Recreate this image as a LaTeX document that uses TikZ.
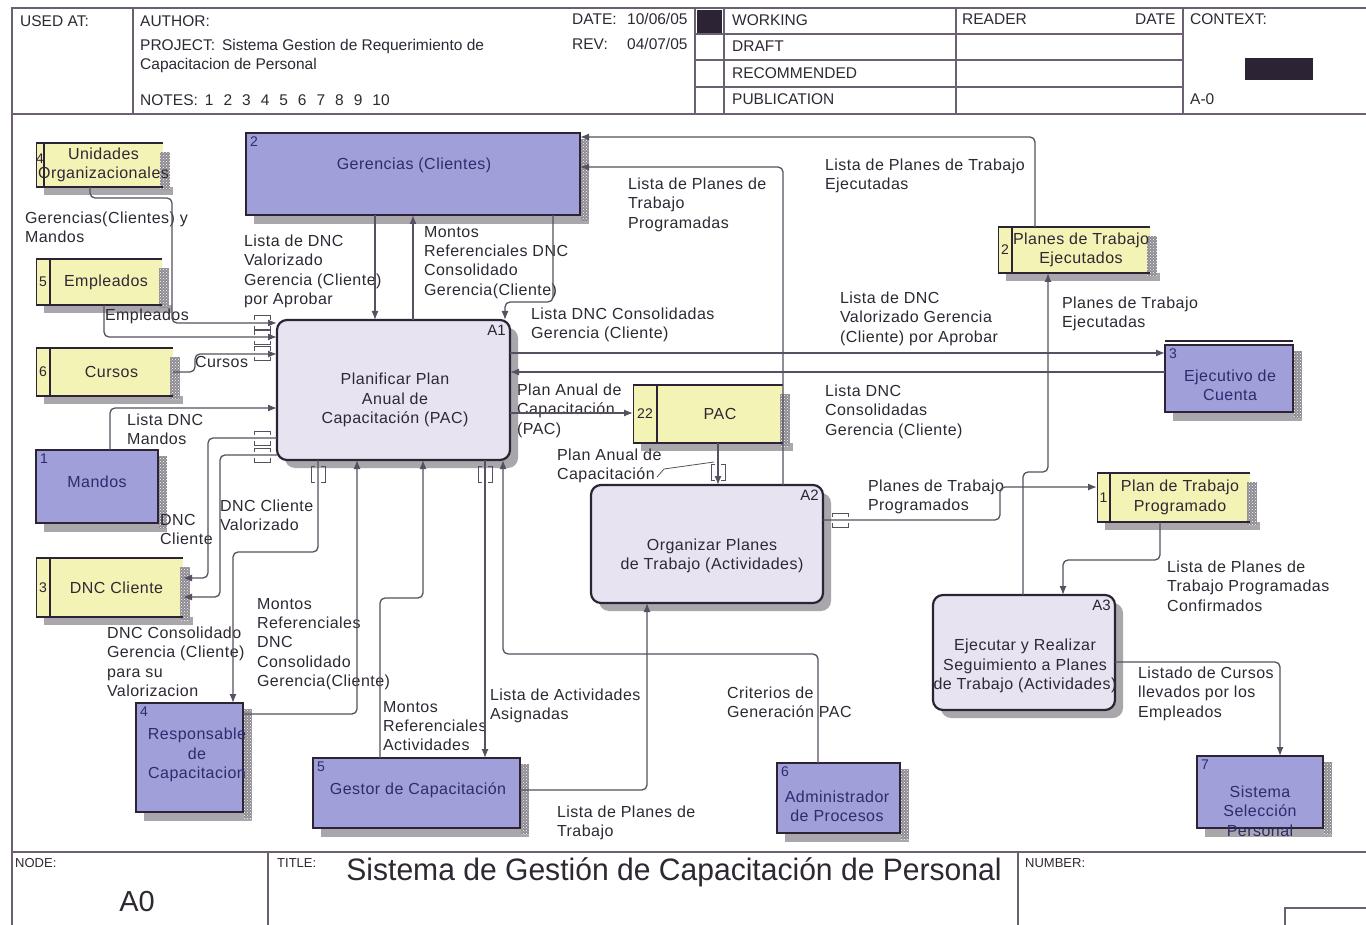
\documentclass[tikz,border=0pt]{standalone}
\usepackage{fontspec}
\setmainfont{Liberation Sans}
\newfontfamily\lblf[LetterSpace=3]{Liberation Sans}
\usetikzlibrary{arrows.meta,patterns}
\definecolor{ln}{HTML}{575060}
\definecolor{bd}{HTML}{2C2434}
\definecolor{yel}{HTML}{F4F3B6}
\definecolor{blu}{HTML}{A09FD9}
\definecolor{act}{HTML}{E7E3F0}
\definecolor{shd}{HTML}{A9A7AC}
\definecolor{chk}{HTML}{8E8C92}
\definecolor{txt}{HTML}{2E2833}
\definecolor{btxt}{HTML}{2C2C6E}
\definecolor{frm}{HTML}{6A6070}
\tikzset{
  conn/.style={draw=ln, line width=1.3pt, rounded corners=5pt},
  arr/.style={-{Latex[length=9pt,width=7pt]}},
  lbl/.style={font=\lblf\fontsize{16}{19.4}\selectfont, text=txt, align=left, anchor=north west, inner sep=0pt, outer sep=0pt},
  boxtxt/.style={font=\lblf\fontsize{16}{19.4}\selectfont, text=txt, align=center, inner sep=0pt},
  bltxt/.style={boxtxt, text=btxt},
  numtxt/.style={font=\fontsize{14}{16}\selectfont, text=bd, inner sep=0pt},
  hdr/.style={font=\fontsize{15.5}{18}\selectfont, text=txt, anchor=base west, inner sep=0pt},
  shdr/.style={font=\fontsize{13}{15}\selectfont, text=txt, anchor=base west, inner sep=0pt},
  anchorbox/.style={inner sep=0pt, outer sep=0pt, draw=none},
  bluebox/.style={draw=bd, line width=2.4pt, fill=blu, inner sep=0pt, outer sep=0pt},
  actbox/.style={draw=bd, line width=2.2pt, fill=act, rounded corners=10pt, inner sep=0pt, outer sep=0pt},
  frame/.style={draw=frm, line width=1.4pt},
  tun/.style={draw=ln, line width=1pt},
}
\newcommand\chkstrip[4]{\fill[chk] (#1,#2) rectangle (#3,#4);
  \fill[pattern=crosshatch dots, pattern color=white] (#1,#2) rectangle (#3,#4);}
\newcommand\ystore[8]{%
  \fill[shd] ({#2+8},{#5}) rectangle ({#4+10},{#5+8});
  \fill[yel] (#2,#3) rectangle (#4,#5);
  \chkstrip{#4-3}{#3+9}{#4+7}{#5+3}
  \draw[bd,line width=1pt] (#2,#3) -- (#2,#5);
  \draw[bd,line width=2.6pt] (#6,#3) -- (#6,#5);
  \draw[bd,line width=2.6pt] (#2,#3) -- (#4,#3);
  \draw[bd,line width=1.6pt] (#2,#5) -- (#4,#5);
  \node[anchorbox, minimum width={#4-#2}, minimum height={#5-#3}] (#1) at ({(#2+#4)/2},{(#3+#5)/2}) {};
  \node[boxtxt] (#1-t) at ({(#6+#4)/2},{(#3+#5)/2}) {#8};
  \node[numtxt] (#1-n) at ({(#2+#6)/2},{(#3+#5)/2}) {#7};
}
\newcommand\bent[6]{%
  \fill[shd] ({#2+8},{#3+8}) rectangle ({#4+9},{#5+9});
  \node[bluebox, minimum width={#4-#2}, minimum height={#5-#3}] (#1) at ({(#2+#4)/2},{(#3+#5)/2}) {};
  \chkstrip{#4+1}{#3+6}{#4+9}{#5+6}
  \node[numtxt, anchor=north west, text=btxt] (#1-n) at ({#2+4},{#3+4}) {#6};
}
\newcommand\actb[6]{%
  \fill[shd, rounded corners=10pt] ({#2+8},{#3+8}) rectangle ({#4+8},{#5+8});
  \node[actbox, minimum width={#4-#2}, minimum height={#5-#3}] (#1) at ({(#2+#4)/2},{(#3+#5)/2}) {};
  \node[numtxt, anchor=north east, font=\fontsize{15}{17}\selectfont] (#1-a) at ({#4-4},{#3+5}) {#6};
}
\newcommand\tunh[2]{\draw[tun] ({#1-8},{#2-3}) -- ({#1-8},{#2-7}) -- ({#1+8},{#2-7}) -- ({#1+8},{#2-3})
  ({#1-8},{#2+3}) -- ({#1-8},{#2+7}) -- ({#1+8},{#2+7}) -- ({#1+8},{#2+3});}
\newcommand\tunv[2]{\draw[tun] ({#1-3},{#2-8}) -- ({#1-7},{#2-8}) -- ({#1-7},{#2+8}) -- ({#1-3},{#2+8})
  ({#1+3},{#2-8}) -- ({#1+7},{#2-8}) -- ({#1+7},{#2+8}) -- ({#1+3},{#2+8});}

\begin{document}
\begin{tikzpicture}[x=1pt,y=-1pt]
\useasboundingbox (0,0) rectangle (1366,925);
\fill[white] (0,0) rectangle (1366,925);

% ---------- header frame ----------
\draw[frame] (12,925) -- (12,8) -- (1366,8);
\draw[frame] (12,114) -- (1366,114);
\draw[frame] (133,8) -- (133,114);
\draw[frame] (695,8) -- (695,114);
\draw[frame] (724,8) -- (724,114);
\draw[frame] (956,8) -- (956,114);
\draw[frame] (1183,8) -- (1183,114);
\draw[frame] (695,34) -- (1183,34);
\draw[frame] (695,60) -- (1183,60);
\draw[frame] (695,87) -- (1183,87);
\fill[bd] (697,10) rectangle (722,33);
\fill[bd] (1245,58) rectangle (1313,80);

\node[hdr] (h1) at (20,27) {USED AT:};
\node[hdr] (h2) at (140,27) {AUTHOR:};
\node[hdr] (h3) at (140,51) {PROJECT:\hspace{7pt}Sistema Gestion de Requerimiento de};
\node[hdr] (h4) at (140,70) {Capacitacion de Personal};
\node[hdr] (h5) at (140,106) {NOTES:\hspace{7pt}1\hspace{10pt}2\hspace{10pt}3\hspace{10pt}4\hspace{10pt}5\hspace{10pt}6\hspace{10pt}7\hspace{10pt}8\hspace{10pt}9\hspace{10pt}10};
\node[hdr] (h6) at (572,25) {DATE:};
\node[hdr] (h7) at (627,25) {10/06/05};
\node[hdr] (h8) at (572,50) {REV:};
\node[hdr] (h9) at (627,50) {04/07/05};
\node[hdr] (h10) at (732,26) {WORKING};
\node[hdr] (h11) at (732,52) {DRAFT};
\node[hdr] (h12) at (732,79) {RECOMMENDED};
\node[hdr] (h13) at (732,105) {PUBLICATION};
\node[hdr] (h14) at (962,25) {READER};
\node[hdr] (h15) at (1135,25) {DATE};
\node[hdr] (h16) at (1190,25) {CONTEXT:};
\node[hdr] (h17) at (1190,105) {A-0};

% ---------- footer ----------
\draw[frame] (12,852) -- (1366,852);
\draw[frame] (268,852) -- (268,925);
\draw[frame] (1018,852) -- (1018,925);
\draw[frame] (1285,925) -- (1285,908) -- (1366,908);
\node[shdr] (f1) at (15,867) {NODE:};
\node[shdr] (f2) at (277,867) {TITLE:};
\node[shdr] (f3) at (1025,867) {NUMBER:};
\node[font=\fontsize{29}{32}\selectfont, text=txt, inner sep=0pt] (f4) at (137,902) {A0};
\node[font=\fontsize{31}{34}\selectfont, text=txt, inner sep=0pt, xscale=0.97] (title) at (674,872) {Sistema de Gestión de Capacitación de Personal};

% ---------- stores (yellow) ----------
\ystore{uo}{36}{143}{163}{187}{44}{}{Unidades\\Organizacionales}
\node[numtxt] (uo-num) at (40,159) {4};
\ystore{emp}{36}{259}{162}{305}{50}{5}{Empleados}
\ystore{cur}{36}{348}{173}{396}{50}{6}{Cursos}
\ystore{dnc}{36}{558}{183}{617}{50}{3}{DNC Cliente}
\ystore{pej}{998}{227}{1150}{273}{1012}{2}{Planes de Trabajo\\Ejecutados}
\ystore{pac}{633}{385}{783}{443}{657}{22}{PAC}
\ystore{ppr}{1097}{473}{1250}{522}{1110}{1}{Plan de Trabajo\\Programado}

% ---------- external entities (blue) ----------
\bent{ger}{246}{133}{580}{215}{2}
\node[bltxt] (ger-t) at (414,165) {Gerencias (Clientes)};
\bent{man}{36}{450}{158}{523}{1}
\node[bltxt] (man-t) at (97,482) {Mandos};
\bent{eje}{1165}{345}{1293}{412}{3}
\draw[bd, line width=2.6pt] (1165,341) -- (1293,341);
\node[bltxt] (eje-t) at (1230,385) {Ejecutivo de\\Cuenta};
\bent{resp}{136}{703}{243}{812}{4}
\node[bltxt] (resp-t) at (197,755) {Responsable\\de\\Capacitacion};
\bent{gest}{313}{758}{520}{828}{5}
\node[bltxt] (gest-t) at (418,790) {Gestor de Capacitación};
\bent{adm}{777}{763}{900}{833}{6}
\node[bltxt] (adm-t) at (837,806) {Administrador\\de Procesos};
\bent{sis}{1197}{756}{1323}{828}{7}
\node[bltxt] (sis-t) at (1260,811) {Sistema\\Selección\\Personal};

% ---------- activities ----------
\actb{A1}{277}{320}{510}{460}{A1}
\node[boxtxt] (A1-t) at (395,400) {Planificar Plan\\Anual de\\Capacitación (PAC)};
\actb{A2}{591}{485}{823}{603}{A2}
\node[boxtxt] (A2-t) at (712,556) {Organizar Planes\\de Trabajo (Actividades)};
\actb{A3}{933}{595}{1115}{710}{A3}
\node[boxtxt] (A3-t) at (1025,666) {Ejecutar y Realizar\\Seguimiento a Planes\\de Trabajo (Actividades)};

% ---------- labels ----------
\node[lbl] (l1) at (25,212) {Gerencias(Clientes) y\\Mandos};
\node[lbl] (l2) at (105,309) {Empleados};
\node[lbl] (l3) at (195,356) {Cursos};
\node[lbl] (l4) at (127,414) {Lista DNC\\Mandos};
\node[lbl] (l5) at (160,514) {DNC\\Cliente};
\node[lbl] (l6) at (220,500) {DNC Cliente\\Valorizado};
\node[lbl] (l7) at (107,627) {DNC Consolidado\\Gerencia (Cliente)\\para su\\Valorizacion};
\node[lbl] (l8) at (257,598) {Montos\\Referenciales\\DNC\\Consolidado\\Gerencia(Cliente)};
\node[lbl] (l9) at (383,701) {Montos\\Referenciales\\Actividades};
\node[lbl] (l10) at (490,689) {Lista de Actividades\\Asignadas};
\node[lbl] (l11) at (557,806) {Lista de Planes de\\Trabajo};
\node[lbl] (l12) at (727,687) {Criterios de\\Generación PAC};
\node[lbl] (l13) at (244,235) {Lista de DNC\\Valorizado\\Gerencia (Cliente)\\por Aprobar};
\node[lbl] (l14) at (424,226) {Montos\\Referenciales DNC\\Consolidado\\Gerencia(Cliente)};
\node[lbl] (l15) at (531,308) {Lista DNC Consolidadas\\Gerencia (Cliente)};
\node[lbl] (l16) at (628,178) {Lista de Planes de\\Trabajo\\Programadas};
\node[lbl] (l17) at (825,159) {Lista de Planes de Trabajo\\Ejecutadas};
\node[lbl] (l18) at (840,292) {Lista de DNC\\Valorizado Gerencia\\(Cliente) por Aprobar};
\node[lbl] (l19) at (825,385) {Lista DNC\\Consolidadas\\Gerencia (Cliente)};
\node[lbl] (l20) at (1062,297) {Planes de Trabajo\\Ejecutadas};
\node[lbl] (l21) at (517,384) {Plan Anual de\\Capacitación\\(PAC)};
\node[lbl] (l22) at (557,449) {Plan Anual de\\Capacitación};
\node[lbl] (l23) at (868,480) {Planes de Trabajo\\Programados};
\node[lbl] (l24) at (1167,561) {Lista de Planes de\\Trabajo Programadas\\Confirmados};
\node[lbl] (l25) at (1138,667) {Listado de Cursos\\llevados por los\\Empleados};

% ---------- connectors ----------
\draw[conn,arr] (uo.south -| 90,0) -- (90,198) -- (172,198) -- (172,323) -- (A1.west |- 0,323);
\draw[conn,arr] (emp.south -| 104,0) -- (104,337) -- (A1.west |- 0,337);
\draw[conn,arr] (cur.east) -- (195,372) -- (195,354) -- (A1.west |- 0,354);
\draw[conn,arr] (man.north -| 110,0) -- (110,408) -- (A1.west |- 0,408);
\draw[conn,arr] (A1.west |- 0,438) -- (208,438) -- (208,578) -- (dnc.east |- 0,578);
\draw[conn,arr] (A1.west |- 0,455) -- (220,455) -- (220,597) -- (dnc.east |- 0,597);
\draw[conn,arr] (A1.south -| 318,0) -- (318,552) -- (233,552) -- (resp.north -| 233,0);
\draw[conn,arr] (resp.east |- 0,714) -- (357,714) -- (A1.south -| 357,0);
\draw[conn,arr] (gest.north -| 380,0) -- (380,598) -- (423,598) -- (A1.south -| 423,0);
\draw[conn,arr] (A1.south -| 485,0) -- (gest.north -| 485,0);
\draw[conn,arr] (adm.north -| 818,0) -- (818,654) -- (503,654) -- (A1.south -| 503,0);
\draw[conn,arr] (gest.east |- 0,790) -- (647,790) -- (A2.south -| 647,0);
\draw[conn,arr] (ger.south -| 375,0) -- (A1.north -| 375,0);
\draw[conn,arr] (A1.north -| 413,0) -- (ger.south -| 413,0);
\draw[conn,arr] (ger.south -| 553,0) -- (553,302) -- (505,302) -- (A1.north -| 505,0);
\draw[conn,arr] (A1.east |- 0,353) -- (eje.west |- 0,353);
\draw[conn,arr] (eje.west |- 0,372) -- (A1.east |- 0,372);
\draw[conn,arr] (A1.east |- 0,413) -- (pac.west |- 0,413);
\draw[conn,arr] (pac.south -| 718,0) -- (A2.north -| 718,0);
\draw[conn,arr] (A2.north -| 783,0) -- (783,167) -- (ger.east |- 0,167);
\draw[conn,arr] (pej.north -| 1035,0) -- (1035,137) -- (ger.east |- 0,137);
\draw[conn,arr] (A3.north -| 1023,0) -- (1023,472) -- (1048,472) -- (pej.south -| 1048,0);
\draw[conn,arr] (A2.east |- 0,520) -- (1000,520) -- (1000,487) -- (ppr.west |- 0,487);
\draw[conn,arr] (ppr.south -| 1160,0) -- (1160,560) -- (1063,560) -- (A3.north -| 1063,0);
\draw[conn,arr] (A3.east |- 0,662) -- (1280,662) -- (sis.north -| 1280,0);
\draw[ln, line width=0.8pt] (657,477) -- (664,469) -- (714,462);

% ---------- tunnel marks ----------
\tunh{262}{323}
\tunh{262}{338}
\tunh{262}{354}
\tunh{262}{438}
\tunh{262}{455}
\tunv{318}{474}
\tunv{485}{474}
\tunv{718}{472}
\tunh{840}{520}
\end{tikzpicture}
\end{document}
